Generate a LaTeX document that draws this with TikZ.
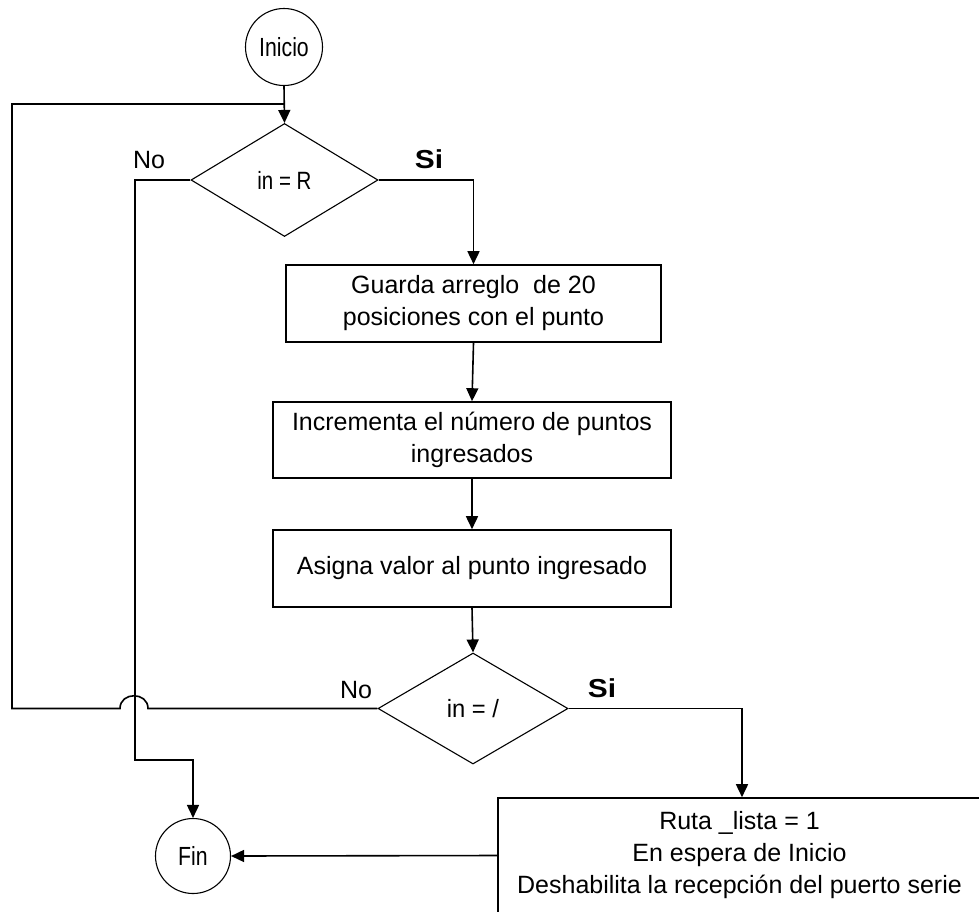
\documentclass[tikz,border=0pt]{standalone}
\usepackage{fontspec}
\setmainfont{Liberation Sans}
\usetikzlibrary{shapes.geometric,arrows.meta}
\begin{document}
\begin{tikzpicture}[x=1pt,y=1pt,
  font=\fontsize{25}{32}\selectfont,
  line/.style={line width=1.6pt},
  flow/.style={line width=1.6pt, -{Triangle[width=12pt,length=13pt]}},
  procbox/.style={draw, rectangle, line width=1.6pt, inner sep=0pt, align=center},
  decision/.style={draw, diamond, line width=1.1pt, inner sep=0pt},
  terminal/.style={draw, circle, line width=1.1pt, inner sep=0pt},
  branch/.style={inner sep=0pt},
  yeslabel/.style={inner sep=0pt, font=\fontsize{26}{32}\selectfont\bfseries},
]
\useasboundingbox (0,0) rectangle (979,-911);
\clip (0,0) rectangle (979,-911);

% start / end
\node[terminal, minimum size=77pt] (ini) at (284,-47) {\scalebox{0.85}[1.05]{Inicio}};
\node[terminal, minimum size=75pt] (fin) at (193,-856) {\scalebox{0.85}[1.05]{Fin}};

% decisions
\node[decision, minimum width=187pt, minimum height=113pt] (d1) at (284.5,-180) {\scalebox{0.82}[1]{in = R}};
\node[decision, minimum width=190pt, minimum height=111pt] (d2) at (473,-708.5) {\scalebox{0.95}[1]{in = /}};

% process boxes
\node[procbox, minimum width=375pt, minimum height=77pt] (b1) at (473.5,-303.5)
  {Guarda arreglo\ \ de 20\\posiciones con el punto};
\node[procbox, minimum width=398pt, minimum height=76pt] (b2) at (472,-440)
  {Incrementa el número de puntos\\ingresados};
\node[procbox, minimum width=398pt, minimum height=77pt] (b3) at (472,-568.5)
  {Asigna valor al punto ingresado};
\node[procbox, minimum width=483pt, minimum height=115pt] (b4) at (739.5,-855.5)
  {Ruta \_lista = 1\\En espera de Inicio\\Deshabilita la recepción del puerto serie};

% helper points
\coordinate (loopin) at (284,-104);
\coordinate (nol) at (135,-180);
\coordinate (nod) at (135,-760);
\coordinate (hopR) at (148,-708.5);
\coordinate (hopL) at (120,-708.5);
\coordinate (loopbl) at (12,-708.5);
\coordinate (looptl) at (12,-104);
\coordinate (si2) at (742,-708.5);

% main flow
\draw[flow] (ini.south) -- (d1.north);
\draw[flow] (d1.east) -| (b1.north);
\draw[flow] (b1.south) -- (b2.north);
\draw[flow] (b2.south) -- (b3.north);
\draw[flow] (b3.south) -- (d2.north);
\draw[flow] (d2.east) -- (si2) -- (si2 |- b4.north);
\draw[flow] (b4.west) -- (fin.east);

% "No" from the first test goes to the end
\draw[flow] (d1.west) -- (nol) -- (nod) -| (fin.north);

% "No" from the second test loops back, hopping over the crossing line
\draw[line] (d2.west) -- (hopR)
  .. controls ([yshift=17pt]hopR) and ([yshift=17pt]hopL) .. (hopL)
  -- (loopbl) -- (looptl) -- (loopin);

% branch labels
\node[branch] (no1) at (149,-160) {No};
\node[yeslabel] (si1) at (429,-159) {\scalebox{1.15}[1]{Si}};
\node[branch] (no2) at (356,-690) {No};
\node[yeslabel] (si2l) at (602,-688) {\scalebox{1.15}[1]{Si}};
\end{tikzpicture}
\end{document}
